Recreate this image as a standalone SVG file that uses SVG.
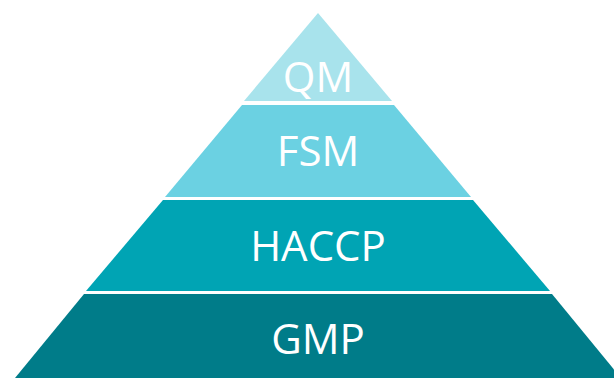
<svg xmlns="http://www.w3.org/2000/svg" width="614" height="378" viewBox="0 0 614 378">
<style>
.lbl{font-family:"Open Sans","Liberation Sans",sans-serif;font-size:42px;fill:#ffffff;text-anchor:middle}
</style>
<rect width="614" height="378" fill="#ffffff"/>
<g id="gmp">
<polygon points="84,294 552,294 621,378 15,378" fill="#007c89"/>
<text class="lbl" x="318" y="354">GMP</text>
</g>
<g id="haccp">
<polygon points="163,200 473,200 550,291 86,291" fill="#00a4b4"/>
<text class="lbl" x="318" y="260.5">HACCP</text>
</g>
<g id="fsm">
<polygon points="242,105 394,105 471,197 165,197" fill="#6bd1e2"/>
<text class="lbl" x="318" y="166">FSM</text>
</g>
<g id="qm">
<polygon points="318,13 392,101 244,101" fill="#a8e3ec"/>
<text class="lbl" x="318" y="91.5">QM</text>
</g>
<g id="connectors"/>
</svg>
